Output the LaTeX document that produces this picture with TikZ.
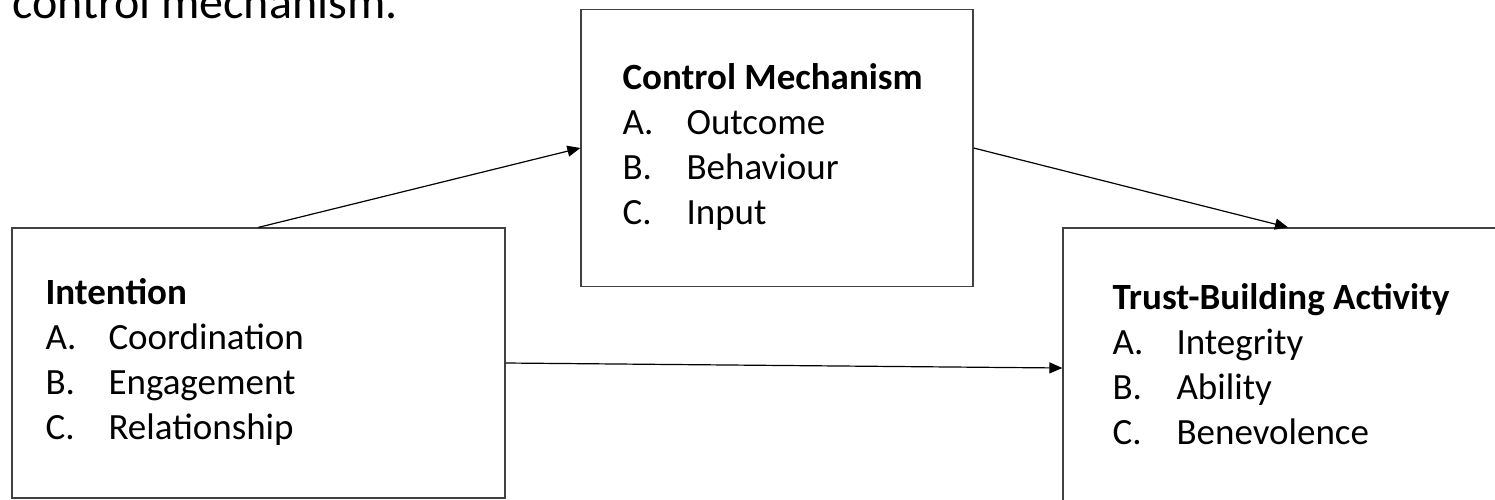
\documentclass[tikz,border=0pt]{standalone}
\usepackage{fontspec}
\setmainfont{Carlito}
\usetikzlibrary{arrows.meta,positioning}
\begin{document}
\begin{tikzpicture}[x=1pt, y=-1pt,
        box/.style = {draw=black!75, line width=1.3pt, rectangle},
        txt/.style = {inner sep=0pt, font=\fontsize{37}{45}\selectfont},
        arr/.style = {-{Triangle[length=13pt,width=11pt]}, line width=1.2pt}]
    \useasboundingbox (0,0) rectangle (1495,499);
    \clip (0,0) rectangle (1495,499);
    % caption line cut by the top edge
    \node[anchor=base west, inner sep=0pt, font=\fontsize{48}{58}\selectfont] (cap) at (12,18) {control mechanism.};
    % the three boxes
    \node[box, minimum width=493pt, minimum height=270pt] (intent) at (258.5,363) {};
    \node[box, minimum width=392pt, minimum height=276.5pt] (ctrl) at (777,148) {};
    \node[box, minimum width=450pt, minimum height=280pt] (trust) at (1288,368) {};
    \node[txt, right=34pt of intent.west] (intenttxt) {\begin{tabular}{@{}p{63pt}@{}l@{}}
        \multicolumn{2}{@{}l@{}}{\textbf{Intention}}\\
        A. & Coordination\\
        B. & Engagement\\
        C. & Relationship
    \end{tabular}};
    \node[txt, right=42pt of ctrl.west] (ctrltxt) {\begin{tabular}{@{}p{64pt}@{}l@{}}
        \multicolumn{2}{@{}l@{}}{\textbf{Control Mechanism}}\\
        A. & Outcome\\
        B. & Behaviour\\
        C. & Input
    \end{tabular}};
    \node[txt, right=50pt of trust.west] (trusttxt) {\begin{tabular}{@{}p{64pt}@{}l@{}}
        \multicolumn{2}{@{}l@{}}{\textbf{Trust-Building Activity}}\\
        A. & Integrity\\
        B. & Ability\\
        C. & Benevolence
    \end{tabular}};
    % links
    \draw[arr] (intent.north) -- (ctrl.west);
    \draw[arr] (ctrl.east) -- (trust.north);
    \draw[arr] (intent.east) -- (trust.west);
\end{tikzpicture}
\end{document}
